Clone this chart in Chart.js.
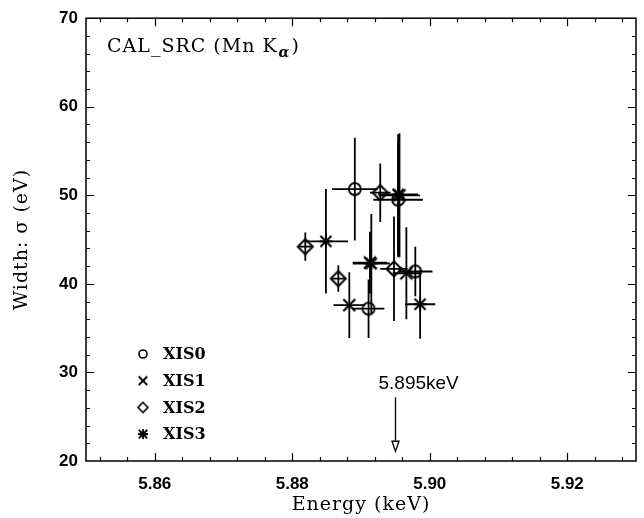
<!DOCTYPE html>
<html>
<head>
<meta charset="utf-8">
<script src="https://cdn.jsdelivr.net/npm/chart.js@4.4.0/dist/chart.umd.min.js"></script>
<style>
html, body { margin: 0; padding: 0; background: #fff; }
</style>
</head>
<body>
<canvas id="myChart" width="644" height="518"></canvas>
<script>
// Mn K-alpha line width vs line energy, one series per sensor

const instruments = ['XIS0', 'XIS1', 'XIS2', 'XIS3'];

// line centre energy (keV) with error, line width sigma (eV) with error
const xis0Energy = [5.8891, 5.8954, 5.8979, 5.8911];
const xis0EnergyErr = [0.0033, 0.0036, 0.0025, 0.0023];
const xis0Width = [50.7, 49.5, 41.4, 37.2];
const xis0WidthErr = [5.8, 6.5, 2.8, 3.3];

const xis1Energy = [5.8883, 5.8966, 5.8913, 5.8956];
const xis1EnergyErr = [0.0023, 0.0020, 0.0025, 0.0030];
const xis1Width = [37.6, 41.2, 42.4, 50.0];
const xis1WidthErr = [3.7, 5.2, 3.5, 7.0];

const xis2Energy = [5.8819, 5.8867, 5.8928, 5.8948];
const xis2EnergyErr = [0.0010, 0.0010, 0.0015, 0.0020];
const xis2Width = [44.2, 40.6, 50.3, 41.7];
const xis2WidthErr = [1.6, 1.5, 3.3, 5.9];

const xis3Energy = [5.8849, 5.8915, 5.8954, 5.8986];
const xis3EnergyErr = [0.0032, 0.0027, 0.0029, 0.0022];
const xis3Width = [44.8, 42.3, 50.1, 37.7];
const xis3WidthErr = [5.9, 5.6, 6.8, 3.9];

// axes
const xTicks = [5.86, 5.88, 5.90, 5.92];
const yTicks = [20, 30, 40, 50, 60, 70];
const xRange = [5.85, 5.93];
const yRange = [20, 70];

// reference line energy marked with an arrow
const lineEnergy = 5.895;
const lineLabel = '5.895keV';

const serif = '"DejaVu Serif", "Liberation Serif", serif';
const sans = '"Liberation Sans", Arial, sans-serif';

// hollow markers drawn on small canvases
function makeMarker(kind, r, lw) {
  let size = Math.ceil(2 * r + lw + 4);
  if (size % 2) size++;
  const c = document.createElement('canvas');
  c.width = size; c.height = size;
  const g = c.getContext('2d');
  const m = size / 2;
  g.strokeStyle = '#000';
  g.lineWidth = lw;
  g.beginPath();
  if (kind === 'circle') g.arc(m, m, r, 0, Math.PI * 2);
  if (kind === 'diamond') {
    g.moveTo(m, m - r); g.lineTo(m + r, m); g.lineTo(m, m + r); g.lineTo(m - r, m); g.closePath();
  }
  if (kind === 'cross' || kind === 'star') {
    const d = r * 0.85;
    g.moveTo(m - d, m - d); g.lineTo(m + d, m + d);
    g.moveTo(m + d, m - d); g.lineTo(m - d, m + d);
  }
  if (kind === 'star') {
    g.moveTo(m - r, m); g.lineTo(m + r, m);
    g.moveTo(m, m - r); g.lineTo(m, m + r);
  }
  g.stroke();
  return c;
}

const plotMarkers = [makeMarker('circle', 6, 1.8), makeMarker('cross', 7, 2.2), makeMarker('diamond', 7.5, 2), makeMarker('star', 6.5, 2)];
const legendMarkers = [makeMarker('circle', 4, 1.6), makeMarker('cross', 5, 1.8), makeMarker('diamond', 5, 1.6), makeMarker('star', 5, 1.8)];

function points(ex, exErr, wy, wyErr) {
  return ex.map((e, i) => ({ x: e, y: wy[i], xErr: exErr[i], yErr: wyErr[i] }));
}

const seriesData = [
  points(xis0Energy, xis0EnergyErr, xis0Width, xis0WidthErr),
  points(xis1Energy, xis1EnergyErr, xis1Width, xis1WidthErr),
  points(xis2Energy, xis2EnergyErr, xis2Width, xis2WidthErr),
  points(xis3Energy, xis3EnergyErr, xis3Width, xis3WidthErr)
];

const errorBars = {
  id: 'errorBars',
  beforeDatasetsDraw(chart) {
    const ctx = chart.ctx, xs = chart.scales.x, ys = chart.scales.y;
    ctx.save();
    ctx.strokeStyle = '#000';
    ctx.lineWidth = 1.8;
    chart.data.datasets.forEach(ds => {
      ds.data.forEach(p => {
        const px = xs.getPixelForValue(p.x), py = ys.getPixelForValue(p.y);
        ctx.beginPath();
        ctx.moveTo(xs.getPixelForValue(p.x - p.xErr), py);
        ctx.lineTo(xs.getPixelForValue(p.x + p.xErr), py);
        ctx.moveTo(px, ys.getPixelForValue(p.y - p.yErr));
        ctx.lineTo(px, ys.getPixelForValue(p.y + p.yErr));
        ctx.stroke();
      });
    });
    ctx.restore();
  }
};

function spacedText(ctx, text, x, y, spacing) {
  ctx.letterSpacing = spacing + 'px';
  ctx.fillText(text, x, y);
  ctx.letterSpacing = '0px';
}

// frame with inward ticks, axis titles, title, legend and the arrow
const frame = {
  id: 'frame',
  afterDraw(chart) {
    const ctx = chart.ctx, a = chart.chartArea, xs = chart.scales.x, ys = chart.scales.y;
    ctx.save();
    ctx.strokeStyle = '#000';
    ctx.lineWidth = 1.5;
    ctx.strokeRect(a.left, a.top, a.right - a.left, a.bottom - a.top);

    ctx.beginPath();
    for (let v = 5.852; v < xRange[1]; v += 0.004) {
      const major = xTicks.some(t => Math.abs(t - v) < 1e-6);
      const L = major ? 8 : 4;
      const px = Math.round(xs.getPixelForValue(v)) + 0.5;
      ctx.moveTo(px, a.bottom); ctx.lineTo(px, a.bottom - L);
      ctx.moveTo(px, a.top); ctx.lineTo(px, a.top + L);
    }
    for (let v = yRange[0] + 2; v < yRange[1]; v += 2) {
      const major = yTicks.some(t => Math.abs(t - v) < 1e-6);
      const L = major ? 8 : 4;
      const py = Math.round(ys.getPixelForValue(v)) + 0.5;
      ctx.moveTo(a.left, py); ctx.lineTo(a.left + L, py);
      ctx.moveTo(a.right, py); ctx.lineTo(a.right - L, py);
    }
    ctx.lineWidth = 1.2;
    ctx.stroke();

    ctx.fillStyle = '#000';

    // axis titles
    ctx.font = '19px ' + serif;
    ctx.textAlign = 'center';
    ctx.textBaseline = 'middle';
    spacedText(ctx, 'Energy (keV)', (a.left + a.right) / 2, 505, 1);
    ctx.save();
    ctx.translate(22, (a.top + a.bottom) / 2);
    ctx.rotate(-Math.PI / 2);
    spacedText(ctx, 'Width: σ (eV)', 0, 0, 1);
    ctx.restore();

    // title
    ctx.textAlign = 'left';
    ctx.textBaseline = 'alphabetic';
    ctx.font = '19px ' + serif;
    const t1 = 'CAL_SRC (Mn K';
    const tx = a.left + 21, ty = a.top + 34;
    ctx.letterSpacing = '1px';
    ctx.fillText(t1, tx, ty);
    const w1 = ctx.measureText(t1).width;
    ctx.letterSpacing = '0px';
    ctx.font = 'italic bold 14px ' + serif;
    ctx.fillText('α', tx + w1 + 1, ty + 5);
    const w2 = ctx.measureText('α').width;
    ctx.font = '19px ' + serif;
    ctx.fillText(')', tx + w1 + w2 + 3, ty);

    // legend
    ctx.font = 'bold 16px ' + serif;
    ctx.textBaseline = 'middle';
    instruments.forEach((name, i) => {
      const ly = 354 + i * 26.7;
      const m = legendMarkers[i];
      ctx.drawImage(m, 143 - m.width / 2, ly - m.height / 2);
      ctx.fillText(name, 163, ly + 1);
    });

    // arrow at the reference energy
    const ax = Math.round(xs.getPixelForValue(lineEnergy)) + 0.5;
    const y0 = ys.getPixelForValue(27.2), y1 = ys.getPixelForValue(21.1);
    ctx.lineWidth = 1.3;
    ctx.beginPath();
    ctx.moveTo(ax, y0); ctx.lineTo(ax, y1 - 10);
    ctx.moveTo(ax - 3.5, y1 - 10); ctx.lineTo(ax, y1); ctx.lineTo(ax + 3.5, y1 - 10); ctx.closePath();
    ctx.stroke();
    ctx.font = '19px ' + sans;
    ctx.textBaseline = 'alphabetic';
    ctx.fillText(lineLabel, ax - 17, ys.getPixelForValue(28.1));
    ctx.restore();
  }
};

const ctx = document.getElementById('myChart').getContext('2d');
const myChart = new Chart(ctx, {
  type: 'scatter',
  data: {
    datasets: instruments.map((name, i) => ({
      label: name,
      data: seriesData[i],
      pointStyle: plotMarkers[i],
      pointRadius: 7,
      pointHoverRadius: 7
    }))
  },
  options: {
    responsive: false,
    animation: false,
    devicePixelRatio: 1,
    layout: { padding: { top: 14, right: 1, left: 0, bottom: 0 } },
    plugins: { legend: { display: false }, tooltip: { enabled: false } },
    scales: {
      x: {
        type: 'linear',
        min: xRange[0],
        max: xRange[1],
        afterBuildTicks: s => { s.ticks = xTicks.map(v => ({ value: v })); },
        afterFit: s => { s.height = 57; },
        grid: { display: false, drawTicks: false },
        border: { display: false },
        ticks: {
          padding: 13,
          color: '#000',
          font: { family: sans, size: 17, weight: 'bold' },
          maxRotation: 0,
          callback: v => v.toFixed(2)
        }
      },
      y: {
        type: 'linear',
        min: yRange[0],
        max: yRange[1],
        afterBuildTicks: s => { s.ticks = yTicks.map(v => ({ value: v })); },
        afterFit: s => { s.width = 86; },
        grid: { display: false, drawTicks: false },
        border: { display: false },
        ticks: {
          padding: 8,
          color: '#000',
          font: { family: sans, size: 17, weight: 'bold' },
          callback: v => String(v)
        }
      }
    }
  },
  plugins: [errorBars, frame]
});
</script>
</body>
</html>
